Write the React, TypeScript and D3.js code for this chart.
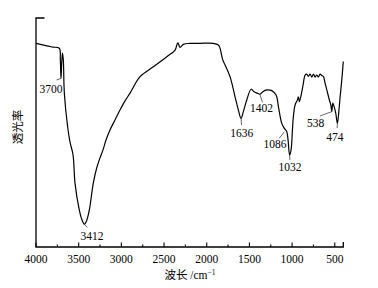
import React from "react";
import * as d3 from "d3";

// FTIR spectrum: wavenumber (cm^-1) vs transmittance (arbitrary %, 0-100)
const wavenumbers = [
  4000, 3875, 3801, 3727, 3715, 3707, 3698, 3690, 3680, 3668, 3629, 3602, 3566, 3543, 3493, 3461,
  3434, 3408, 3375, 3329, 3289, 3250, 3215, 3180, 3133, 3074, 3016, 2957, 2898, 2781, 2625, 2468,
  2371, 2339, 2313, 2274, 2195, 2078, 1922, 1864, 1844, 1812, 1785, 1727, 1668, 1629, 1598, 1571,
  1531, 1480, 1445, 1410, 1375, 1343, 1296, 1238, 1187, 1160, 1121, 1090, 1062, 1047, 1029, 1012,
  996, 985, 965, 938, 926, 914, 886, 868, 848, 828, 809, 789, 769, 750, 730, 711, 692, 672, 652,
  633, 613, 593, 563, 546, 535, 523, 508, 488, 469, 449, 437, 418, 400,
];
const transmittance = [
  88.9, 87.8, 87.3, 86.8, 81.7, 73.6, 80.8, 84.7, 81.7, 67.2, 52.4, 45.9, 40.2, 27.9, 16.2, 11.8,
  10.0, 11.4, 16.2, 27.9, 34.5, 38.9, 42.4, 46.7, 51.1, 55.5, 59.8, 63.8, 67.2, 74.4, 78.7, 83.1,
  86.0, 89.2, 87.2, 88.5, 88.9, 88.95, 88.95, 88.2, 86.8, 81.7, 79.5, 74.4, 65.6, 59.8, 56.2, 59.1,
  64.2, 68.9, 67.8, 67.2, 66.7, 67.8, 68.6, 68.3, 66.4, 61.3, 54.0, 51.8, 50.3, 46.7, 40.2, 42.4,
  51.1, 56.9, 62.0, 64.2, 65.6, 63.5, 67.8, 71.5, 75.1, 75.5, 74.5, 75.5, 74.2, 75.5, 74.2, 75.1, 74.2, 75.5, 74.9,
  74.4, 71.5, 68.6, 64.2, 62.0, 59.1, 62.8, 61.3, 58.4, 54.0, 60.6, 65.6, 72.9, 81.0,
];

const majorTicks = [4000, 3500, 3000, 2500, 2000, 1500, 1000, 500];
const minorTicks = [3750, 3250, 2750, 2250, 1750, 1250, 750];

// peak annotations: label, peak wavenumber, peak transmittance
const peakLabels = ["3700", "3412", "1636", "1402", "1086", "1032", "538", "474"];
const peakWn = [3707, 3434, 1598, 1378, 1092, 1029, 535, 469];
const peakT = [73.6, 10.0, 56.2, 66.7, 50.3, 40.2, 59.1, 54.0];
// leader end offset and text centre offset (px) relative to the peak
const leaderDx = [-4.5, 3, 0.5, 2.6, -5, 0.3, -11.7, -0.3];
const leaderDy = [1.5, 3.3, 6.7, 8, 6.6, 5, 4.3, 4.7];
const textDx = [-10, 7.7, 0.7, 1.8, -9.3, 0.5, -16.2, -2.6];
const textDy = [10.5, 12, 14.4, 13.3, 12.6, 12, 11, 13.4];

const W = 378;
const H = 288;
const font = "'Liberation Serif', 'Times New Roman', serif";
const cjk = "'Noto Sans CJK SC', sans-serif";

export default function App() {
  const x = d3.scaleLinear().domain([4000, 400]).range([36, 343.3]);
  const y = d3.scaleLinear().domain([0, 100]).range([247, 18]);
  const pts: [number, number][] = wavenumbers.map((w, i) => [w, transmittance[i]]);
  const line = d3
    .line<[number, number]>()
    .x((d) => x(d[0]))
    .y((d) => y(d[1]))
    .curve(d3.curveCatmullRom.alpha(0.5));
  const y0 = y(0);

  return (
    <svg
      width={W}
      height={H}
      style={{ position: "absolute", left: 0, top: 0, background: "#fff" }}
    >
      <rect width={W} height={H} fill="#fff" />
      {/* axes */}
      <path
        d={`M${x(4000) + 8.5},${y(100)}H${x(4000)}V${y0}H${x(400)}V${y0 - 5}`}
        fill="none"
        stroke="#000"
        strokeWidth={1.3}
      />
      {majorTicks.map((t) => (
        <line key={"M" + t} x1={x(t)} x2={x(t)} y1={y0} y2={y0 - 4.5} stroke="#000" strokeWidth={1.1} />
      ))}
      {minorTicks.map((t) => (
        <line key={"m" + t} x1={x(t)} x2={x(t)} y1={y0} y2={y0 - 2.5} stroke="#000" strokeWidth={1.1} />
      ))}
      {majorTicks.map((t) => (
        <text
          key={"l" + t}
          x={x(t)}
          y={y0 + 16}
          fontFamily={font}
          fontSize={11.5}
          textAnchor="middle"
          fill="#000"
        >
          {t}
        </text>
      ))}
      <text x={190} y={279} fontFamily={font} fontSize={11.5} textAnchor="middle" fill="#000">
        <tspan fontFamily={cjk} fontSize={11.5}>波长</tspan>
        <tspan> /cm</tspan>
        <tspan fontSize={7.5} dy={-4.5}>−1</tspan>
      </text>
      <text
        transform="translate(22,127) rotate(-90)"
        fontFamily={cjk}
        fontSize={11.5}
        textAnchor="middle"
        fill="#000"
      >
        透光率
      </text>
      {/* spectrum */}
      <path d={line(pts) || ""} fill="none" stroke="#000" strokeWidth={1.2} strokeLinejoin="round" />
      {/* annotations */}
      {peakLabels.map((lab, i) => {
        const px = x(peakWn[i]);
        const py = y(peakT[i]);
        return (
          <g key={lab}>
            <line
              x1={px}
              y1={py}
              x2={px + leaderDx[i]}
              y2={py + leaderDy[i]}
              stroke="#000"
              strokeWidth={0.6}
            />
            <text
              x={px + textDx[i]}
              y={py + textDy[i] + 4}
              fontFamily={font}
              fontSize={11.5}
              textAnchor="middle"
              fill="#000"
            >
              {lab}
            </text>
          </g>
        );
      })}
    </svg>
  );
}
